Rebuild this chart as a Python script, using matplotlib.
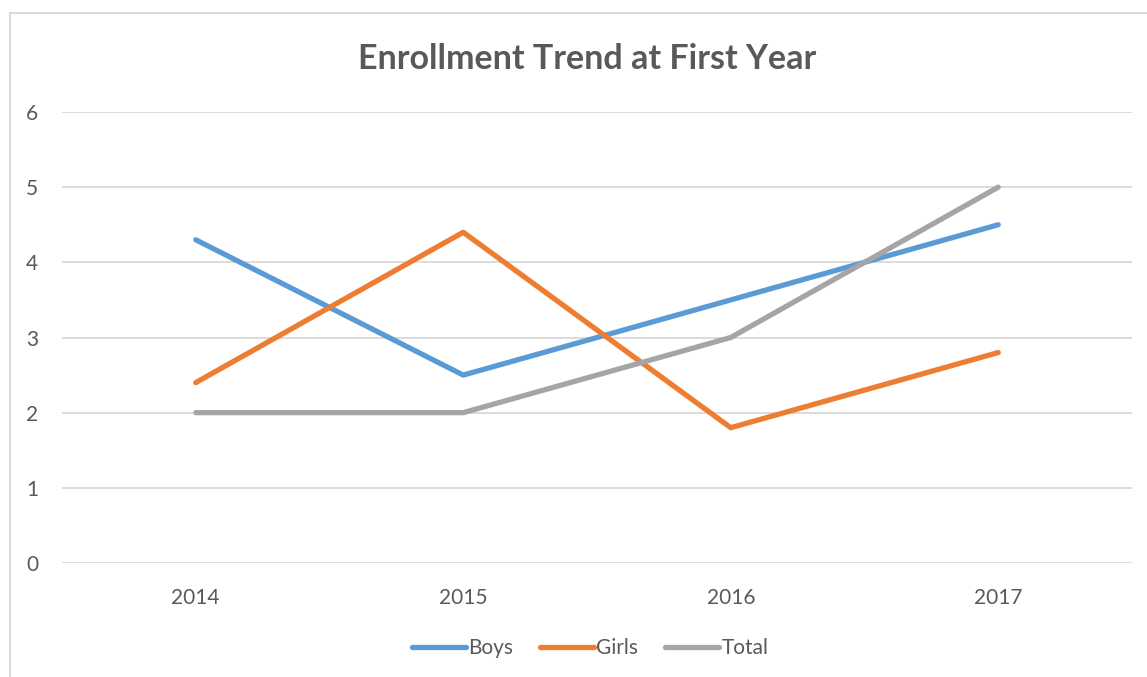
import matplotlib
matplotlib.use("Agg")
import matplotlib.pyplot as plt
from matplotlib.patches import Rectangle

years = ["2014", "2015", "2016", "2017"]
boys = [4.3, 2.5, 3.5, 4.5]
girls = [2.4, 4.4, 1.8, 2.8]
total = [2, 2, 3, 5]

plt.rcParams['font.family'] = ['Lato', 'DejaVu Sans']
txt = '#595959'

fig = plt.figure(figsize=(11.47, 6.77), dpi=100)
ax = fig.add_axes([62/1147, 1-563/677, 1070/1147, 451/677])

# chart border
fig.patches.append(Rectangle((10/1147, -0.1), 1.2, 1.1 - 13/677,
                             transform=fig.transFigure, fill=False,
                             edgecolor='#D9D9D9', linewidth=1.5))

x = range(len(years))
ax.plot(x, boys, color='#5B9BD5', lw=3.8, solid_capstyle='round', label='Boys')
ax.plot(x, girls, color='#ED7D31', lw=3.8, solid_capstyle='round', label='Girls')
ax.plot(x, total, color='#A5A5A5', lw=3.8, solid_capstyle='round', label='Total')

ax.set_xlim(-0.5, 3.5)
ax.set_ylim(0, 6)
ax.set_xticks(list(x))
ax.set_xticklabels(years)
ax.set_yticks(range(7))
ax.grid(axis='y', color='#D9D9D9', lw=1.3)
ax.set_axisbelow(True)
for s in ax.spines.values():
    s.set_visible(False)
ax.tick_params(length=0, labelsize=15, colors=txt)
ax.tick_params(axis='x', pad=18)
ax.tick_params(axis='y', pad=17)

fig.text(587/1147, 1-59/677, "Enrollment Trend at First Year", ha='center', va='center',
         fontsize=24.5, fontweight='bold', color=txt)

leg = ax.legend(loc='center', bbox_to_anchor=(590/1147, 1-648/677),
                bbox_transform=fig.transFigure, ncol=3, frameon=False,
                fontsize=15, handlelength=2.6, handletextpad=0.1, columnspacing=1.3,
                labelcolor=txt)

fig.savefig("out.png", dpi=100)
